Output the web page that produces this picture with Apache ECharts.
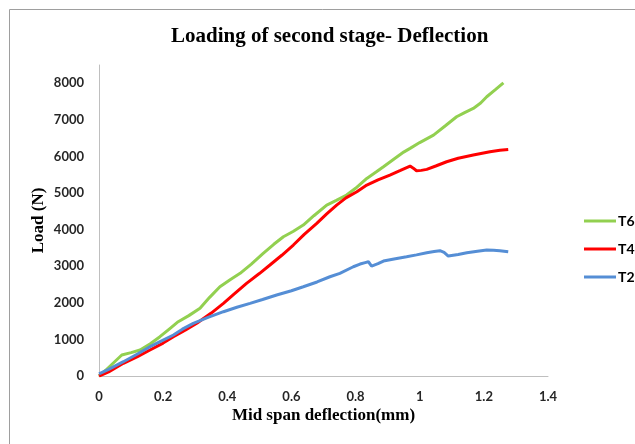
<!DOCTYPE html>
<html>
<head>
<meta charset="utf-8">
<script src="https://cdn.jsdelivr.net/npm/echarts@6/dist/echarts.min.js"></script>
<style>
  html, body { margin: 0; padding: 0; background: #fff; }
  #chart { width: 635px; height: 444px; }
</style>
</head>
<body>
<div id="chart"></div>
<script>
// Mid span deflection (mm) and load (N) for each specimen
const t6Deflection = [0, 0.02, 0.071, 0.10, 0.128, 0.16, 0.19, 0.22, 0.247, 0.28, 0.315, 0.345, 0.377, 0.41, 0.44, 0.475, 0.512, 0.545, 0.575, 0.605, 0.637, 0.67, 0.71, 0.74, 0.772, 0.80, 0.835, 0.865, 0.887, 0.92, 0.95, 0.970, 1.00, 1.043, 1.08, 1.115, 1.14, 1.167, 1.19, 1.209, 1.235, 1.261];
const t6Load = [0, 150, 574, 640, 710, 880, 1074, 1290, 1484, 1650, 1850, 2150, 2440, 2640, 2806, 3060, 3352, 3600, 3806, 3950, 4126, 4380, 4672, 4800, 4945, 5130, 5401, 5580, 5719, 5930, 6120, 6221, 6380, 6585, 6840, 7085, 7200, 7313, 7460, 7632, 7820, 8014];

const t4Deflection = [0, 0.03, 0.076, 0.12, 0.159, 0.2, 0.232, 0.27, 0.305, 0.35, 0.388, 0.42, 0.46, 0.5, 0.533, 0.57, 0.606, 0.64, 0.679, 0.71, 0.741, 0.77, 0.804, 0.835, 0.87, 0.907, 0.94, 0.970, 0.980, 0.990, 1.005, 1.022, 1.05, 1.084, 1.12, 1.167, 1.219, 1.25, 1.276];
const t4Load = [0, 110, 347, 530, 710, 900, 1074, 1260, 1440, 1720, 1986, 2230, 2533, 2800, 3033, 3300, 3579, 3870, 4172, 4430, 4672, 4870, 5036, 5219, 5360, 5492, 5620, 5738, 5680, 5610, 5620, 5647, 5740, 5856, 5950, 6038, 6129, 6170, 6193];

const t2Deflection = [0, 0.03, 0.076, 0.12, 0.159, 0.2, 0.232, 0.26, 0.294, 0.34, 0.388, 0.43, 0.471, 0.51, 0.554, 0.6, 0.637, 0.68, 0.72, 0.751, 0.793, 0.814, 0.830, 0.840, 0.850, 0.87, 0.887, 0.92, 0.959, 0.99, 1.022, 1.045, 1.063, 1.076, 1.089, 1.12, 1.147, 1.18, 1.209, 1.23, 1.250, 1.276];
const t2Load = [60, 180, 391, 600, 801, 980, 1120, 1280, 1440, 1600, 1757, 1880, 1986, 2090, 2213, 2330, 2440, 2570, 2713, 2806, 2986, 3060, 3100, 3123, 3005, 3070, 3142, 3200, 3260, 3310, 3369, 3400, 3424, 3380, 3279, 3320, 3369, 3410, 3442, 3440, 3424, 3397];

const seriesNames = ['T6', 'T4', 'T2'];
const seriesColors = ['#92D050', '#FF0000', '#558ED5'];

function pairs(xs, ys) {
  return xs.map((x, i) => [x, ys[i]]);
}

const chart = echarts.init(document.getElementById('chart'), null, { renderer: 'canvas' });

const labelFont = { fontFamily: 'Lato', fontWeight: 'bold', fontSize: 13, color: '#262626' };
const nameFont = { fontFamily: 'Liberation Serif', fontWeight: 'bold', fontSize: 17, color: '#000' };

chart.setOption({
  backgroundColor: '#ffffff',
  animation: false,
  title: {
    text: 'Loading of second stage- Deflection',
    left: 166,
    top: 21,
    textStyle: { fontFamily: 'Liberation Serif', fontWeight: 'bold', fontSize: 21, color: '#000' }
  },
  graphic: [{
    type: 'rect',
    shape: { x: 9.5, y: 9.5, width: 640, height: 450 },
    style: { fill: 'none', stroke: '#9E9E9E', lineWidth: 1 },
    silent: true
  }],
  grid: { left: 99, right: 87, top: 65, bottom: 68 },
  legend: {
    orient: 'vertical',
    left: 579,
    top: 209,
    itemGap: 14,
    itemWidth: 32,
    itemHeight: 3,
    icon: 'rect',
    data: seriesNames,
    textStyle: { fontFamily: 'Lato', fontWeight: 'bold', fontSize: 14, color: '#000', padding: [0, 0, 0, -3] }
  },
  xAxis: {
    type: 'value',
    min: 0, max: 1.4, interval: 0.2,
    name: 'Mid span deflection(mm)',
    nameLocation: 'middle',
    nameGap: 31,
    nameMoveOverlap: false,
    nameTextStyle: nameFont,
    axisLine: { show: true, lineStyle: { color: '#BFBFBF', width: 1 } },
    axisTick: { show: false },
    splitLine: { show: false },
    axisLabel: Object.assign({ margin: 14 }, labelFont)
  },
  yAxis: {
    type: 'value',
    min: 0, max: 8500, interval: 1000,
    name: 'Load (N)',
    nameLocation: 'middle',
    nameGap: 52,
    nameMoveOverlap: false,
    nameTextStyle: nameFont,
    axisLine: { show: true, lineStyle: { color: '#BFBFBF', width: 1 } },
    axisTick: { show: false },
    splitLine: { show: false },
    axisLabel: Object.assign({ margin: 15, showMaxLabel: false, formatter: v => String(v) }, labelFont)
  },
  series: [
    { name: 'T6', type: 'line', data: pairs(t6Deflection, t6Load) },
    { name: 'T4', type: 'line', data: pairs(t4Deflection, t4Load) },
    { name: 'T2', type: 'line', data: pairs(t2Deflection, t2Load) }
  ].map((s, i) => Object.assign(s, {
    symbol: 'none',
    color: seriesColors[i],
    lineStyle: { color: seriesColors[i], width: 3 }
  }))
});
</script>
</body>
</html>
